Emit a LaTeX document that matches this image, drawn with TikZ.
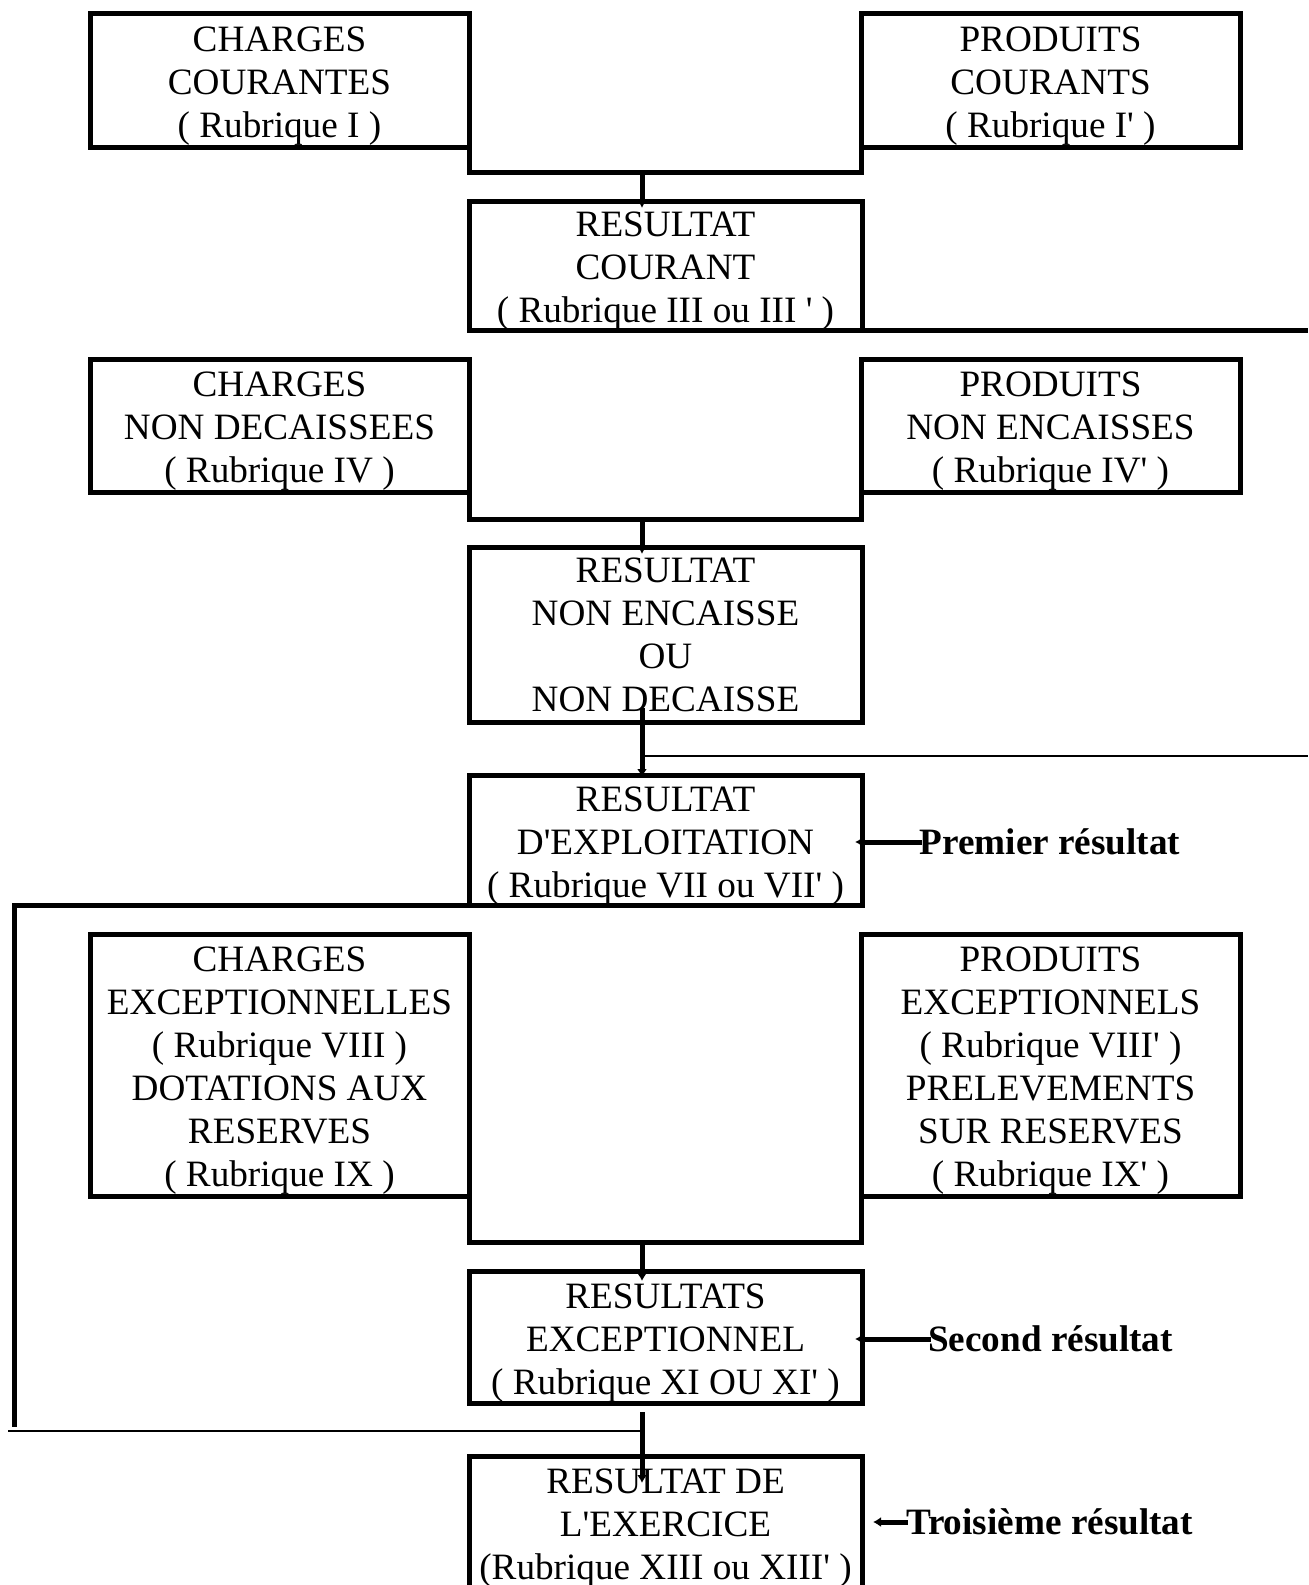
\documentclass[tikz,border=0pt]{standalone}
\usepackage{fontspec}
\setmainfont{Liberation Serif}
\usetikzlibrary{arrows.meta}
\newcommand{\apo}{\textquotesingle}

\begin{document}
\begin{tikzpicture}[x=0.5pt, y=-0.5pt,
    font=\fontsize{18.6}{21.5}\selectfont,
    boite/.style={draw, line width=2.5pt, inner sep=0pt, outer sep=0pt, minimum width=189.5pt},
    resultat/.style={boite, minimum width=196.5pt},
    texte/.style={align=center, inner sep=0pt, yshift=-3pt},
    trait/.style={line width=2.5pt},
    mince/.style={line width=1pt},
    fleche/.style={line width=2.5pt, -{Latex[length=4pt,width=5pt]}},
    titre/.style={font=\fontsize{18.6}{21.5}\selectfont\bfseries, inner sep=0pt}]
    \useasboundingbox (0,0) rectangle (1308,1585);

    % bloc courant
    \node[boite, minimum height=67pt, label={[texte]center:{CHARGES\\COURANTES\\( Rubrique I )}}] (C1) at (279.5,80) {};
    \node[boite, minimum height=67pt, label={[texte]center:{PRODUITS\\COURANTS\\( Rubrique I\apo{} )}}] (P1) at (1050.5,80) {};
    \node[resultat, minimum height=64.5pt, label={[texte]center:{RESULTAT\\COURANT\\( Rubrique III ou III \apo{} )}}] (R1) at (665.5,265.5) {};
    \coordinate (b1) at (642,172);
    \coordinate (e1) at (1308,330);
    \draw[trait] (C1.south east) |- (b1) -| (P1.south west);
    \draw[fleche, shorten >=-3.5pt] (b1) -- (b1 |- R1.north);
    \draw[trait] (R1.south east) -- (e1);

    % bloc non encaisse
    \node[boite, minimum height=66.5pt, label={[texte]center:{CHARGES\\NON DECAISSEES\\( Rubrique IV )}}] (C2) at (279.5,425.5) {};
    \node[boite, minimum height=66.5pt, label={[texte]center:{PRODUITS\\NON ENCAISSES\\( Rubrique IV\apo{} )}}] (P2) at (1050.5,425.5) {};
    \node[resultat, minimum height=87.5pt, label={[texte, yshift=3pt]center:{RESULTAT\\NON ENCAISSE\\OU\\NON DECAISSE}}] (R2) at (665.5,634.5) {};
    \coordinate (b2) at (642,519);
    \coordinate (d2) at (642,708);
    \coordinate (e2) at (642,756);
    \coordinate (f2) at (1308,756);
    \draw[trait] (C2.south east) |- (b2) -| (P2.south west);
    \draw[fleche, shorten >=-3.5pt] (b2) -- (b2 |- R2.north);
    \draw[mince] (e2) -- (f2);

    % premier resultat
    \node[resultat, minimum height=65pt, label={[texte]center:{RESULTAT\\D\apo{}EXPLOITATION\\( Rubrique VII ou VII\apo{} )}}] (R3) at (665.5,840) {};
    \node[titre] (prem) at (1050,842) {Premier résultat};
    \draw[fleche, shorten >=-1pt] (d2) -- (d2 |- R3.north);
    \draw[fleche, shorten >=-3.5pt] ([xshift=1.5pt]prem.west) -- (prem.west -| R3.east);
    \coordinate (g2) at (14,1427);
    \draw[trait] (R3.south west) -| (g2);

    % bloc exceptionnel
    \node[boite, minimum height=131pt, label={[texte]center:{CHARGES\\EXCEPTIONNELLES\\( Rubrique VIII )\\DOTATIONS AUX\\RESERVES\\( Rubrique IX )}}] (C4) at (279.5,1065) {};
    \node[boite, minimum height=131pt, label={[texte]center:{PRODUITS\\EXCEPTIONNELS\\( Rubrique VIII\apo{} )\\PRELEVEMENTS\\SUR RESERVES\\( Rubrique IX\apo{} )}}] (P4) at (1050.5,1065) {};
    \node[resultat, minimum height=66pt, label={[texte]center:{RESULTATS\\EXCEPTIONNEL\\( Rubrique XI OU XI\apo{} )}}] (R4) at (665.5,1337) {};
    \node[titre] (sec) at (1050.5,1339) {Second résultat};
    \coordinate (b4) at (642,1242);
    \draw[trait] (C4.south east) |- (b4) -| (P4.south west);
    \draw[fleche, shorten >=-5pt] (b4) -- (b4 |- R4.north);
    \draw[fleche, shorten >=-3.5pt] ([xshift=1.5pt]sec.west) -- (sec.west -| R4.east);

    % resultat de l'exercice
    \node[resultat, minimum height=66pt, label={[texte]center:{RESULTAT DE\\L\apo{}EXERCICE\\(Rubrique XIII ou XIII\apo{} )}}] (R5) at (665.5,1522) {};
    \node[titre] (trois) at (1049.5,1522) {Troisième résultat};
    \coordinate (d4) at (642,1412);
    \coordinate (g3) at (8,1431);
    \draw[fleche, shorten >=-13.5pt] (d4) -- (d4 |- R5.north);
    \draw[mince] (g3) -- (g3 -| d4);
    \draw[fleche, shorten >=5.5pt] ([xshift=1pt]trois.west) -- (trois.west -| R5.east);
\end{tikzpicture}
\end{document}
